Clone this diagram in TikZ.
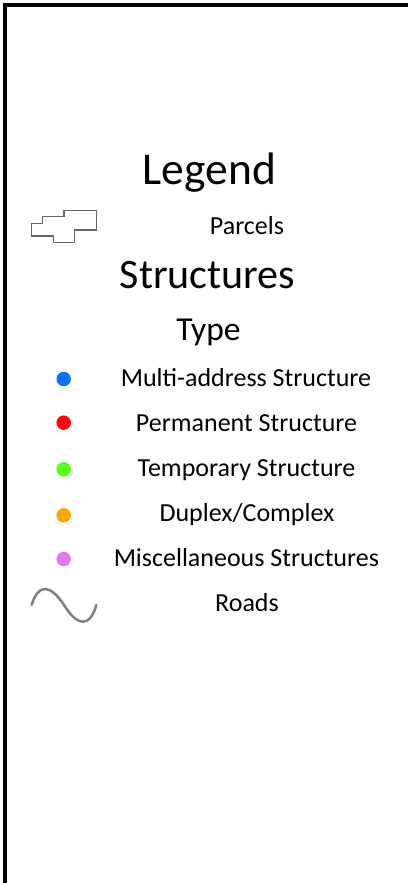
\documentclass[tikz,border=0pt]{standalone}
\usepackage{fontspec}
\setmainfont{Carlito}
\definecolor{multiblue}{RGB}{16,112,255}
\definecolor{permred}{RGB}{255,8,8}
\definecolor{tempgreen}{RGB}{88,255,24}
\definecolor{duplexorange}{RGB}{255,166,0}
\definecolor{miscviolet}{RGB}{224,120,240}
\begin{document}
\begin{tikzpicture}[
    x=1pt, y=-1pt,
    frame/.style={line width=4pt, black},
    heading/.style={anchor=base, inner sep=0pt},
    entry/.style={anchor=base, inner sep=0pt, font=\fontsize{26}{30}\selectfont},
    dot/.style={circle, fill=#1, draw=none, minimum size=14.5pt, inner sep=0pt},
    symbol/.style={line width=1.5pt, color=black!60, line join=miter},
    road/.style={line width=2.5pt, color=black!50, line cap=round}
]
    \useasboundingbox (0,0) rectangle (407,883);

    % Frame
    \draw[frame] (4.5,885) -- (4.5,5.5) -- (410,5.5);

    % Headings
    \node[heading, font=\fontsize{45.5}{52}\selectfont] (legend) at (209.5,184.3) {Legend};
    \node[heading, font=\fontsize{42}{48}\selectfont] (structures) at (207.5,288.3) {Structures};
    \node[heading, font=\fontsize{33.5}{40}\selectfont] (type) at (208.5,340) {Type};

    % Parcels
    \draw[symbol] (31.7,223.3) -- (42.7,223.3) -- (42.7,216.7) -- (64,216.7) -- (64,210.7)
        -- (96.3,210.7) -- (96.3,230) -- (74.7,230) -- (74.7,242.7) -- (53.3,242.7)
        -- (53.3,236) -- (31.7,236) -- cycle;
    \node[entry] (parcels) at (247,234) {Parcels};

    % Structure types
    \node[dot=multiblue] (multidot) at (63.7,379) {};
    \node[entry] (multi) at (246,386.7) {Multi-address Structure};

    \node[dot=permred] (permdot) at (63.7,422.7) {};
    \node[entry] (perm) at (246.5,431.7) {Permanent Structure};

    \node[dot=tempgreen] (tempdot) at (63.7,469.3) {};
    \node[entry] (temp) at (246.5,476) {Temporary Structure};

    \node[dot=duplexorange] (duplexdot) at (63.7,515.3) {};
    \node[entry] (duplex) at (247,521.7) {Duplex/Complex};

    \node[dot=miscviolet] (miscdot) at (63.7,559) {};
    \node[entry] (misc) at (246.4,566.7) {Miscellaneous Structures};

    % Roads
    \draw[road] (31.7,605) .. controls (38,583.7) and (50,583.7) .. (64,605)
                           .. controls (78,627.3) and (90,627.3) .. (96.3,605);
    \node[entry] (roads) at (247,611.7) {Roads};
\end{tikzpicture}
\end{document}
